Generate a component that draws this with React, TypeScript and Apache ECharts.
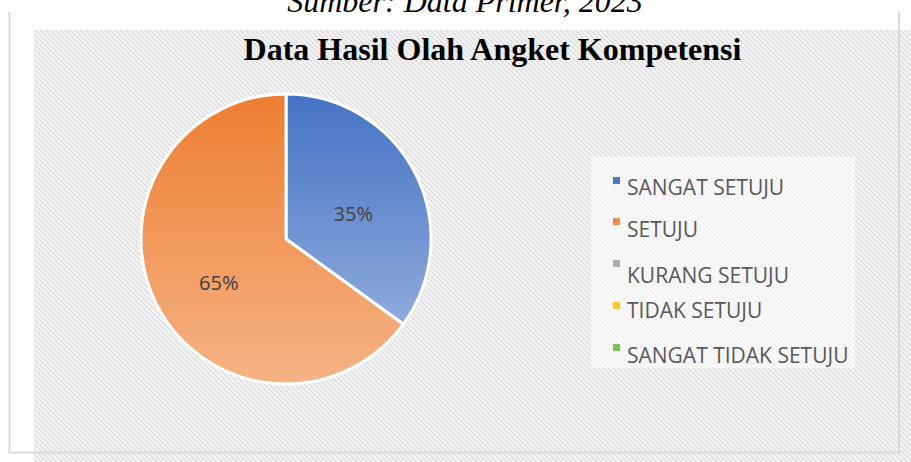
import React, { useEffect, useRef } from "react";
import * as echarts from "echarts";

const categories = ["SANGAT SETUJU", "SETUJU", "KURANG SETUJU", "TIDAK SETUJU", "SANGAT TIDAK SETUJU"];
const values = [35, 65, 0, 0, 0];
const topColors = ["#4472c4", "#ed7d31", "#a5a5a5", "#ffc000", "#70ad47"];
const bottomColors = ["#a2b9e1", "#f5b486", "#c9c9c9", "#ffd966", "#a9d18e"];
const legendColors = ["#5079c9", "#ef8a4f", "#adadad", "#ffc72e", "#7cc44f"];
const legendTops = [172, 214, 259.5, 294.5, 339.5];
const legendMarkerOffsets = [5, 4, 0.5, 7.5, 4.5];
const titleText = "Data Hasil Olah Angket Kompetensi";
const captionText = "Sumber: Data Primer, 2023";

const hatchSvg =
  '<svg xmlns="http://www.w3.org/2000/svg" width="5" height="5">' +
  '<rect width="5" height="5" fill="#f7f7f7"/>' +
  '<path d="M-1,-1L6,6M-1,4L1,6M4,-1L6,1" stroke="#e0e0e0" stroke-width="1.7"/>' +
  "</svg>";
const hatchUrl = "data:image/svg+xml;charset=utf-8," + encodeURIComponent(hatchSvg);

export default function App() {
  const ref = useRef<HTMLDivElement>(null);
  useEffect(() => {
    if (!ref.current) return;
    const chart = echarts.init(ref.current, null, { renderer: "svg" });
    const pieTop = 92;
    const pieBottom = 386;
    const data = categories.map((name, i) => ({
      name,
      value: values[i],
      itemStyle: {
        color: new echarts.graphic.LinearGradient(
          0, pieTop, 0, pieBottom,
          [
            { offset: 0, color: topColors[i] },
            { offset: 1, color: bottomColors[i] },
          ],
          true
        ),
        borderWidth: values[i] > 0 ? 3 : 0,
        borderColor: "#ffffff",
      },
      label: { show: values[i] > 0 },
    }));
    const legends = categories.map((name, i) => ({
      data: [{ name, itemStyle: { color: legendColors[i], borderWidth: 0 } }],
      left: 613,
      top: legendTops[i],
      orient: "vertical",
      padding: 0,
      itemGap: 0,
      icon:
        "path://M0,0h0.01v0.01h-0.01zM0," +
        legendMarkerOffsets[i] +
        "h7v7h-7zM8.99,29.99h0.01v0.01z",
      itemWidth: 9,
      itemHeight: 30,
      itemStyle: { borderWidth: 0 },
      selectedMode: false,
      textStyle: { fontFamily: "Open Sans", fontSize: 21, color: "#595959" },
    }));
    chart.setOption({
      animation: false,
      graphic: [
        {
          type: "rect",
          z: -10,
          silent: true,
          shape: { x: 34, y: 30, width: 877, height: 432 },
          style: {
            fill: { type: "pattern", image: hatchUrl, repeat: "repeat", imageWidth: 5, imageHeight: 5 } as any,
          },
        },
        {
          type: "polyline",
          z: -9,
          silent: true,
          shape: { points: [[9.5, 12], [9.5, 452.5], [899, 452.5], [899, 12]] },
          style: { fill: "none", stroke: "#d9d9d9", lineWidth: 2 },
        },
        {
          type: "rect",
          z: -8,
          silent: true,
          shape: { x: 591, y: 157, width: 264, height: 211 },
          style: { fill: "rgba(255,255,255,0.55)" },
        },
        {
          type: "text",
          silent: true,
          style: {
            text: titleText,
            x: 492.5,
            y: 49,
            textAlign: "center",
            textVerticalAlign: "middle",
            font: "bold 32px 'Liberation Serif', 'Times New Roman', serif",
            fill: "#000000",
          },
        },
        {
          type: "text",
          silent: true,
          style: {
            text: captionText,
            x: 465,
            y: 1,
            textAlign: "center",
            textVerticalAlign: "middle",
            font: "italic 32px 'Liberation Serif', 'Times New Roman', serif",
            fill: "#000000",
          },
        },
      ],
      legend: legends,
      series: [
        {
          type: "pie",
          center: [286, 239],
          radius: 145,
          startAngle: 90,
          clockwise: true,
          data,
          label: {
            position: "inside",
            formatter: "{d}%",
            fontFamily: "Open Sans",
            fontSize: 20,
            color: "#404040",
          },
          labelLayout: { dy: 9 },
          labelLine: { show: false },
          emphasis: { disabled: true },
        },
      ],
    });
    return () => chart.dispose();
  }, []);
  return (
    <div
      ref={ref}
      style={{ position: "absolute", left: 0, top: 0, width: 911, height: 462 }}
    />
  );
}
